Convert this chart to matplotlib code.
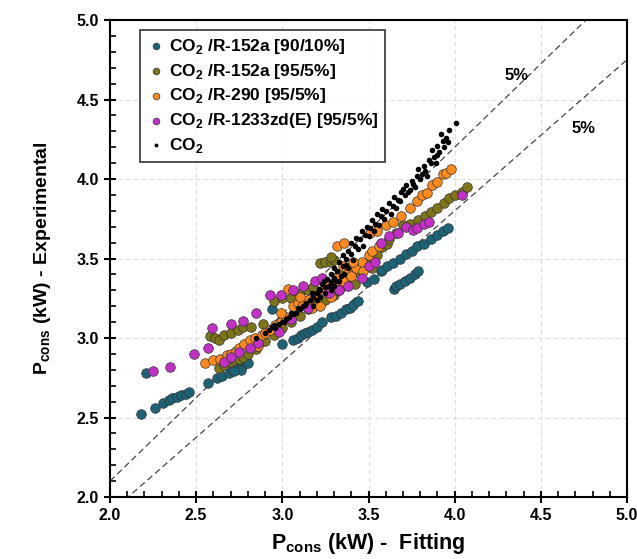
import matplotlib

matplotlib.use("Agg")
import matplotlib.pyplot as plt
from matplotlib.ticker import MultipleLocator

plt.rcParams["font.family"] = ["Liberation Sans", "DejaVu Sans"]
plt.rcParams["font.weight"] = "bold"
plt.rcParams["mathtext.fontset"] = "custom"
plt.rcParams["mathtext.rm"] = "Liberation Sans:bold"
plt.rcParams["mathtext.bf"] = "Liberation Sans:bold"

# ---------------------------------------------------------------------------
# Data (fitted vs experimental condenser power, kW)
# ---------------------------------------------------------------------------
r152a_90_x = [2.18, 2.26, 2.31, 2.34, 2.36, 2.39, 2.41, 2.44, 2.46, 2.21,
              2.57, 2.62, 2.65, 2.69, 2.71, 2.73, 2.75, 2.77, 2.79, 2.80, 2.76, 2.72,
              3.00, 3.06, 3.09, 3.11, 3.13, 3.15, 3.17, 3.20, 3.23, 3.28, 3.31, 3.34, 3.37, 3.39,
              2.94, 3.09, 3.16, 3.41, 3.44,
              3.49, 3.53, 3.57, 3.58, 3.61, 3.64, 3.68, 3.72, 3.75, 3.78, 3.82, 3.86, 3.90, 3.93, 3.96,
              3.65, 3.66, 3.68, 3.71, 3.74, 3.77, 3.79]
r152a_90_y = [2.52, 2.56, 2.59, 2.61, 2.62, 2.63, 2.64, 2.65, 2.66, 2.78,
              2.72, 2.75, 2.76, 2.78, 2.80, 2.81, 2.82, 2.83, 2.85, 2.84, 2.80, 2.79,
              2.96, 2.99, 3.00, 3.02, 3.03, 3.04, 3.05, 3.07, 3.10, 3.13, 3.14, 3.16, 3.18, 3.19,
              3.18, 3.25, 3.22, 3.21, 3.23,
              3.35, 3.37, 3.42, 3.43, 3.45, 3.47, 3.50, 3.53, 3.55, 3.58, 3.59, 3.62, 3.65, 3.67, 3.69,
              3.31, 3.33, 3.34, 3.36, 3.38, 3.40, 3.42]

r152a_95_x = [2.58, 2.61, 2.63, 2.66, 2.70, 2.74, 2.77, 2.82, 2.89, 2.95, 3.00, 3.05, 3.10, 3.15,
              3.22, 3.25, 3.28, 3.30,
              2.63, 2.66, 2.70, 2.72, 2.75, 2.77, 2.80, 2.85, 2.90, 2.95, 3.00, 3.05, 3.10, 3.15,
              3.20, 3.25, 3.30, 3.32, 3.35, 3.38, 3.42, 3.46, 3.50,
              3.28, 3.33, 3.37, 3.42, 3.55, 3.58, 3.61, 3.62, 3.66, 3.70, 3.74, 3.79, 3.83, 3.86,
              3.90, 3.94, 3.97, 4.00, 4.04, 4.07, 3.18, 3.24, 3.45, 3.52]
r152a_95_y = [3.01, 3.00, 2.99, 3.02, 3.03, 3.05, 3.07, 3.07, 3.09, 3.23, 3.25, 3.25, 3.28, 3.30,
              3.47, 3.48, 3.48, 3.49,
              2.81, 2.83, 2.85, 2.86, 2.87, 2.88, 2.90, 2.93, 2.98, 3.02, 3.06, 3.10, 3.14, 3.18,
              3.21, 3.24, 3.27, 3.30, 3.33, 3.37, 3.42, 3.45, 3.47,
              3.51, 3.40, 3.38, 3.34, 3.52, 3.57, 3.59, 3.62, 3.66, 3.71, 3.72, 3.74, 3.77, 3.79,
              3.82, 3.85, 3.88, 3.90, 3.92, 3.95, 3.32, 3.36, 3.40, 3.44]

r290_x = [2.55, 2.60, 2.64, 2.68, 2.70, 2.73, 2.75, 2.78, 2.81, 2.84, 2.88, 2.90, 2.93, 2.96,
          2.99, 3.02, 2.99, 3.03, 3.06, 3.09, 3.12, 3.15, 3.17, 3.20, 3.24, 3.27, 3.30, 3.32,
          3.35, 3.35, 3.38, 3.40, 3.43, 3.32, 3.36, 3.46, 3.50, 3.52, 3.51, 3.55, 3.60, 3.64,
          3.69, 3.74, 3.78, 3.81, 3.84, 3.87, 3.90, 3.93, 3.95, 3.98,
          3.22, 3.28, 3.33, 3.41, 3.47, 3.56, 2.86, 3.10]
r290_y = [2.84, 2.86, 2.87, 2.89, 2.90, 2.92, 2.94, 2.96, 2.99, 3.00, 3.02, 3.03, 3.05, 3.08,
          3.10, 3.13, 3.16, 3.31, 3.20, 3.22, 3.21, 3.24, 3.19, 3.26, 3.30, 3.33, 3.35, 3.38,
          3.36, 3.45, 3.41, 3.39, 3.44, 3.58, 3.60, 3.48, 3.52, 3.55, 3.66, 3.67, 3.71, 3.73,
          3.77, 3.82, 3.86, 3.90, 3.91, 3.96, 3.98, 4.03, 4.04, 4.06,
          3.20, 3.26, 3.30, 3.48, 3.42, 3.58, 2.95, 3.26]

r1233_x = [2.25, 2.35, 2.49, 2.57, 2.59, 2.66, 2.70, 2.75, 2.81, 2.86, 2.98, 2.70, 2.77, 2.85,
           2.93, 2.99, 3.06, 3.12, 3.19, 3.23, 3.15, 3.05, 3.27, 3.33, 3.38, 3.46, 3.50, 3.54,
           3.57, 3.62, 3.67, 3.72, 3.76, 3.78, 3.82, 3.85, 4.04]
r1233_y = [2.79, 2.82, 2.90, 2.94, 3.06, 2.85, 2.88, 2.91, 2.94, 2.97, 3.04, 3.09, 3.11, 3.16,
           3.27, 3.27, 3.30, 3.33, 3.36, 3.38, 3.19, 3.12, 3.28, 3.30, 3.33, 3.38, 3.45, 3.48,
           3.60, 3.64, 3.66, 3.70, 3.68, 3.69, 3.72, 3.73, 3.90]

co2_x = [2.85, 2.90, 2.92, 2.94, 2.96, 2.98, 3.00, 3.02, 3.04, 3.06, 3.08, 3.10, 3.12, 3.14,
         3.16, 3.18, 3.20, 3.22, 3.23, 3.25, 3.26, 3.28, 3.28, 3.30, 3.30, 3.32, 3.33, 3.35,
         3.35, 3.37, 3.38, 3.40, 3.40, 3.42, 3.43, 3.45, 3.46, 3.48, 3.49, 3.51, 3.52, 3.54,
         3.55, 3.57, 3.58, 3.60, 3.62, 3.64, 3.65, 3.67, 3.69, 3.70, 3.72, 3.73, 3.75, 3.76,
         3.78, 3.79, 3.80, 3.82, 3.83, 3.85, 3.86, 3.87, 3.88, 3.90, 3.90, 3.92, 3.93, 3.94,
         3.96, 3.97, 4.01,
         3.18, 3.20, 3.22, 3.25, 3.28, 3.30, 3.33, 3.36, 3.38,
         2.95, 3.01, 3.05, 3.09, 3.13, 3.17, 3.21, 3.24, 3.27, 3.31, 3.34, 3.37, 3.41, 3.44,
         3.47, 3.50, 3.53, 3.56, 3.59, 3.63, 3.66, 3.68, 3.71, 3.74, 3.77, 3.81, 3.84, 3.89,
         3.91, 3.95]
co2_y = [3.00, 3.03, 3.05, 3.07, 3.06, 3.09, 3.10, 3.12, 3.13, 3.15, 3.16, 3.18, 3.20, 3.22,
         3.24, 3.26, 3.28, 3.30, 3.34, 3.32, 3.37, 3.35, 3.40, 3.38, 3.44, 3.42, 3.48, 3.45,
         3.52, 3.50, 3.55, 3.53, 3.60, 3.58, 3.63, 3.62, 3.67, 3.65, 3.70, 3.69, 3.74, 3.72,
         3.78, 3.77, 3.81, 3.80, 3.85, 3.83, 3.89, 3.87, 3.92, 3.94, 3.96, 3.92, 3.99, 3.97,
         4.02, 4.06, 4.00, 4.08, 4.05, 4.12, 4.10, 4.18, 4.14, 4.21, 4.15, 4.28, 4.24, 4.20,
         4.23, 4.31, 4.35,
         3.20, 3.24, 3.26, 3.28, 3.30, 3.33, 3.36, 3.40, 3.44,
         3.08, 3.10, 3.16, 3.19, 3.21, 3.28, 3.31, 3.36, 3.33, 3.36, 3.39, 3.46, 3.49, 3.56,
         3.58, 3.64, 3.67, 3.71, 3.75, 3.78, 3.82, 3.86, 3.90, 3.93, 3.95, 4.03, 4.02, 4.10,
         4.17, 4.26]

band_limits = [1.05, 0.95]
band_labels = ["5%", "5%"]
axis_range = [2.0, 5.0]

fig = plt.figure(figsize=(6.37, 5.59), dpi=100)
ax = fig.add_axes([0.1727, 0.1109, 0.8116, 0.8533])

series = [
    (r152a_90_x, r152a_90_y, "#1b6478", r"CO$_2$ /R-152a [90/10%]"),
    (r152a_95_x, r152a_95_y, "#7d7518", r"CO$_2$ /R-152a [95/5%]"),
    (r290_x, r290_y, "#ff8a1c", r"CO$_2$ /R-290 [95/5%]"),
    (r1233_x, r1233_y, "#c42fc8", r"CO$_2$ /R-1233zd(E) [95/5%]"),
]
for xs, ys, color, label in series:
    ax.scatter(xs, ys, s=48, color=color, edgecolor="#333333", linewidth=0.5,
               label=label, zorder=3)
ax.scatter(co2_x, co2_y, s=16, color="black", linewidth=0, label=r"CO$_2$", zorder=4)

# +/-5 % deviation lines
for k in band_limits:
    ax.plot(axis_range, [k * v for v in axis_range], ls=(0, (5, 3)), color="#444444",
            lw=0.9, zorder=2)
ax.text(4.36, 4.65, band_labels[0], fontsize=12, fontweight="bold", ha="center", va="center")
ax.text(4.75, 4.32, band_labels[1], fontsize=12, fontweight="bold", ha="center", va="center")

ax.set_xlim(axis_range)
ax.set_ylim(axis_range)
ax.xaxis.set_major_locator(MultipleLocator(0.5))
ax.yaxis.set_major_locator(MultipleLocator(0.5))
ax.xaxis.set_minor_locator(MultipleLocator(0.1))
ax.yaxis.set_minor_locator(MultipleLocator(0.1))
ax.xaxis.set_major_formatter(lambda v, p: f"{v:.1f}")
ax.yaxis.set_major_formatter(lambda v, p: f"{v:.1f}")
ax.tick_params(which="major", direction="inout", length=8, width=1.5, labelsize=11.5, pad=4)
ax.tick_params(which="minor", direction="in", length=4, width=1.2)
for lbl in ax.get_xticklabels() + ax.get_yticklabels():
    lbl.set_fontweight("bold")
ax.grid(True, which="major", ls=(0, (4, 3)), color="#dddddd", lw=0.8, zorder=0)
for sp in ax.spines.values():
    sp.set_linewidth(1.5)

ax.set_xlabel(r"P$_{\mathrm{cons}}$ (kW) -  Fitting", fontsize=15.5, fontweight="bold", labelpad=6)
ax.set_ylabel(r"P$_{\mathrm{cons}}$ (kW) - Experimental", fontsize=14, fontweight="bold",
              labelpad=17)

leg = ax.legend(loc="upper left", bbox_to_anchor=(0.058, 0.979), fontsize=12.5,
                frameon=True, fancybox=False, edgecolor="black", markerscale=0.7,
                handletextpad=0.15, borderpad=0.4, labelspacing=0.33, handlelength=1.1,
                borderaxespad=0.0)
leg.get_frame().set_linewidth(1.2)
for t in leg.get_texts():
    t.set_fontweight("bold")

fig.savefig("out.png", dpi=100)
